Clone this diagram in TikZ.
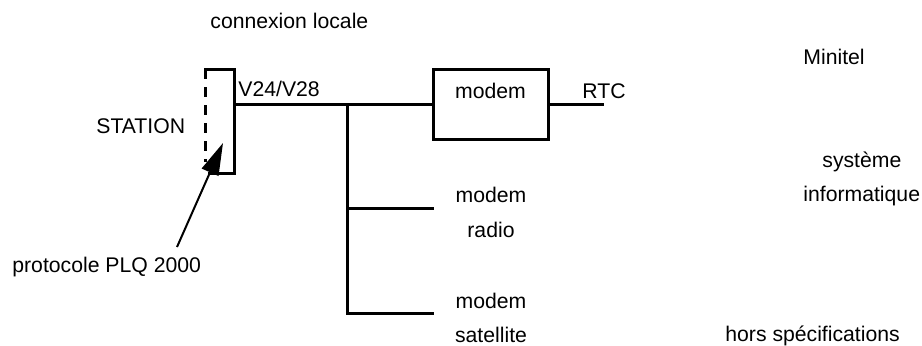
\documentclass[tikz,border=0pt]{standalone}
\usepackage{fontspec}
\setmainfont{Liberation Sans}
\usetikzlibrary{arrows.meta}

\tikzset{
  lbl/.style={anchor=base west, inner sep=0pt, font=\fontsize{10.6}{12.7}\selectfont},
  lblc/.style={lbl, anchor=base},
  wire/.style={line width=1.5pt},
}

\begin{document}
\begin{tikzpicture}[x=0.5pt, y=-0.5pt]
\useasboundingbox (0,0) rectangle (922,345);

% Station
\coordinate (sttop) at (204,69);
\coordinate (stne) at (234,69);
\coordinate (stse) at (234,173);
\coordinate (stbot) at (208,173);
\coordinate (stport) at (234,104);
\draw [wire] (sttop) -- (stne) -- (stse) -- (stbot);
\draw [wire, dash pattern=on 5pt off 4pt] (205,69) -- (205,162);
\node [lbl] (station) at (96,133) {STATION};
\node [lbl] (v24) at (238,96) {V24/V28};
\node [lbl] (connex) at (210,28) {connexion locale};

% Protocol arrow
\coordinate (arrtail) at (177,247);
\coordinate (arrtip) at (223,143);
\draw [line width=1pt, -{Triangle[length=16pt,width=9pt]}] (arrtail) -- (arrtip);
\node [lbl] (proto) at (12,272) {protocole PLQ 2000};

% Modem RTC
\node [draw, wire, minimum width=57.5pt, minimum height=35pt, inner sep=0pt] (modembox) at (490.5,104) {};
\node [lblc] (modemtxt) at (490.5,98) {modem};
\coordinate (rtcend) at (604,104);
\draw [wire] (stport) -- (modembox.west);
\draw [wire] (modembox.east) -- (rtcend);
\node [lbl] (rtc) at (582,98) {RTC};

% Branches
\coordinate (split) at (347,104);
\coordinate (splitbot) at (347,313);
\coordinate (radioend) at (434,208);
\coordinate (satend) at (434,313);
\draw [wire] (split) -- (splitbot) -- (satend);
\draw [wire] (347,208) -- (radioend);

\node [lblc] (modemradio) at (491,202) {modem};
\node [lblc] (radio) at (491,237) {radio};
\node [lblc] (modemsat) at (491,308) {modem};
\node [lblc] (sat) at (491,342) {satellite};

% Right side
\node [lbl] (minitel) at (803,64) {Minitel};
\node [lbl] (systeme) at (822,167) {système};
\node [lbl] (info) at (803,201) {informatique};
\node [lbl] (hors) at (725,341) {hors spécifications};
\end{tikzpicture}
\end{document}
